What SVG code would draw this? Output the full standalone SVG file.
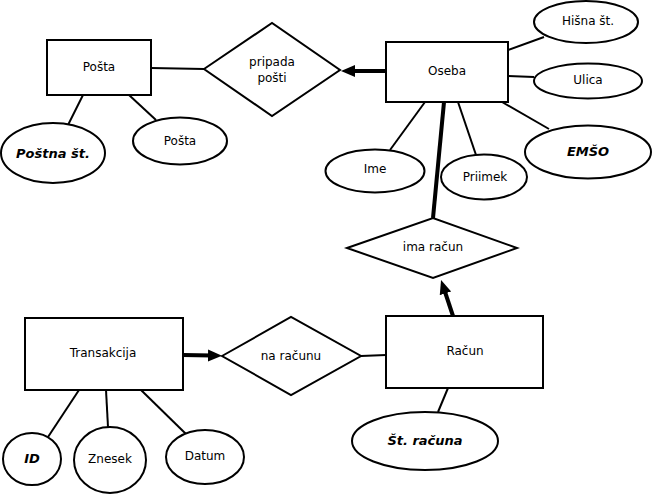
<svg xmlns="http://www.w3.org/2000/svg" width="652" height="494" viewBox="0 0 652 494">
<style>
.shape{fill:#fff;stroke:#000;stroke-width:2}
.ln{fill:none;stroke:#000;stroke-width:2}
.thick{fill:none;stroke:#000;stroke-width:4}
text{font-family:"DejaVu Sans","Liberation Sans",sans-serif;font-size:12px;text-anchor:middle;dominant-baseline:central;fill:#000}
.key{font-weight:bold;font-style:italic;font-size:13px}
</style>
<defs>
<marker id="arr" markerUnits="userSpaceOnUse" markerWidth="16" markerHeight="14" viewBox="0 0 16 14" refX="4" refY="7" orient="auto">
<path d="M0,1 L14,7 L0,13 z" fill="#000"/>
</marker>
</defs>
<g id="connectors">
<line class="ln" x1="151" y1="68" x2="204" y2="69"/>
<line class="thick" x1="386" y1="71" x2="351" y2="71" marker-end="url(#arr)"/>
<line class="ln" x1="83" y1="95" x2="68" y2="125"/>
<line class="ln" x1="129" y1="95" x2="156" y2="120"/>
<line class="ln" x1="508" y1="50" x2="544" y2="37"/>
<line class="ln" x1="508" y1="76" x2="534" y2="77"/>
<line class="ln" x1="502" y1="102" x2="549" y2="129"/>
<line class="ln" x1="425" y1="102" x2="390" y2="150"/>
<line class="ln" x1="458" y1="102" x2="476" y2="155"/>
<line class="thick" x1="444" y1="102" x2="433" y2="218"/>
<line class="thick" x1="453" y1="316" x2="444.2" y2="289.5" marker-end="url(#arr)"/>
<line class="thick" x1="183" y1="355" x2="212" y2="355.5" marker-end="url(#arr)"/>
<line class="ln" x1="361" y1="356" x2="386" y2="355"/>
<line class="ln" x1="448" y1="388" x2="438" y2="412"/>
<line class="ln" x1="79" y1="390" x2="48" y2="437"/>
<line class="ln" x1="106" y1="390" x2="108" y2="427"/>
<line class="ln" x1="141" y1="390" x2="186" y2="434"/>
</g>
<g id="posta">
<rect class="shape" x="47" y="40" width="104" height="55"/>
<text x="99" y="67">Pošta</text>
</g>
<g id="pripada_posti">
<polygon class="shape" points="204,69 272,23 340,70 272,116"/>
<text x="272" y="62">pripada</text>
<text x="272" y="78">pošti</text>
</g>
<g id="postna_st">
<ellipse class="shape" cx="53" cy="153" rx="52" ry="30"/>
<text class="key" x="53" y="153">Poštna št.</text>
</g>
<g id="posta_attr">
<ellipse class="shape" cx="180" cy="141" rx="47" ry="23.5"/>
<text x="180" y="141">Pošta</text>
</g>
<g id="oseba">
<rect class="shape" x="386" y="42" width="122" height="60"/>
<text x="447" y="71">Oseba</text>
</g>
<g id="hisna_st">
<ellipse class="shape" cx="586" cy="22" rx="52" ry="21"/>
<text x="588" y="21">Hišna št.</text>
</g>
<g id="ulica">
<ellipse class="shape" cx="588" cy="81" rx="54" ry="17.5"/>
<text x="588" y="80">Ulica</text>
</g>
<g id="emso">
<ellipse class="shape" cx="588" cy="152" rx="63" ry="26.5"/>
<text class="key" x="588" y="151">EMŠO</text>
</g>
<g id="ime">
<ellipse class="shape" cx="375" cy="171" rx="49.5" ry="21.5"/>
<text x="375" y="169">Ime</text>
</g>
<g id="priimek">
<ellipse class="shape" cx="484" cy="177" rx="43" ry="22.5"/>
<text x="485" y="177">Priimek</text>
</g>
<g id="ima_racun">
<polygon class="shape" points="347,248 433,218 517,248 433,278"/>
<text x="433" y="247">ima račun</text>
</g>
<g id="racun">
<rect class="shape" x="386" y="316" width="157" height="72"/>
<text x="465" y="351">Račun</text>
</g>
<g id="st_racuna">
<ellipse class="shape" cx="425" cy="441" rx="73" ry="29"/>
<text class="key" x="425" y="440">Št. računa</text>
</g>
<g id="na_racunu">
<polygon class="shape" points="222,356 291,317 361,356 291,395"/>
<text x="291" y="356">na računu</text>
</g>
<g id="transakcija">
<rect class="shape" x="25" y="318" width="158" height="72"/>
<text x="103" y="353">Transakcija</text>
</g>
<g id="id_attr">
<ellipse class="shape" cx="32" cy="459" rx="29" ry="26"/>
<text class="key" x="32" y="458">ID</text>
</g>
<g id="znesek">
<ellipse class="shape" cx="110" cy="460" rx="36" ry="33"/>
<text x="110" y="459">Znesek</text>
</g>
<g id="datum">
<ellipse class="shape" cx="205" cy="457" rx="39" ry="27"/>
<text x="205" y="456">Datum</text>
</g>
</svg>
